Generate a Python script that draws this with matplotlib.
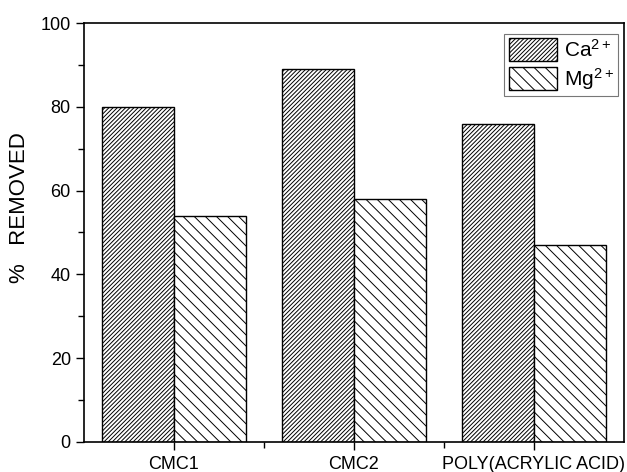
import matplotlib
matplotlib.use("Agg")
import matplotlib.pyplot as plt
import numpy as np
from matplotlib.ticker import MultipleLocator, FixedLocator

# removal data for each polymer
categories = ["CMC1", "CMC2", "POLY(ACRYLIC ACID)"]
ca_removed = [80, 89, 76]
mg_removed = [54, 58, 47]

plt.rcParams['font.family'] = ['Liberation Sans', 'DejaVu Sans']
plt.rcParams['mathtext.default'] = 'regular'
plt.rcParams['hatch.linewidth'] = 0.7

fig = plt.figure(figsize=(6.27, 4.72), dpi=100)
ax = fig.add_axes([0.134, 0.064, 0.861, 0.887])

x = np.arange(1, len(categories) + 1)
w = 0.4
ax.bar(x - w / 2, ca_removed, w, facecolor='white', edgecolor='black',
       linewidth=1.0, hatch='////////', label='Ca$^{2+}$')
ax.bar(x + w / 2, mg_removed, w, facecolor='white', edgecolor='black',
       linewidth=1.0, hatch='\\\\\\', label='Mg$^{2+}$')

ax.set_xlim(0.5, 3.5)
ax.set_ylim(0, 100)
ax.set_xticks(x)
ax.set_xticklabels(categories, fontsize=13)
ax.xaxis.set_minor_locator(FixedLocator([1.5, 2.5]))
ax.yaxis.set_major_locator(MultipleLocator(20))
ax.yaxis.set_minor_locator(MultipleLocator(10))
ax.tick_params(axis='y', which='major', labelsize=13, length=6, width=1,
               direction='out')
ax.tick_params(axis='y', which='minor', length=4, width=1, direction='out')
ax.tick_params(axis='x', which='major', length=6, width=1, direction='out', pad=4)
ax.tick_params(axis='x', which='minor', length=4, width=1, direction='out')
for s in ax.spines.values():
    s.set_linewidth(1.2)

ax.set_ylabel("%   REMOVED", fontsize=16)
ax.yaxis.set_label_coords(-0.1, 0.56)

leg = ax.legend(loc='upper right', bbox_to_anchor=(0.989, 0.974),
                borderaxespad=0, fontsize=15, frameon=True, fancybox=False,
                edgecolor='#555555', handlelength=2.35, handleheight=1.3,
                borderpad=0.2, labelspacing=0.25, handletextpad=0.3)
leg.get_frame().set_linewidth(0.8)

fig.savefig("out.png", dpi=100)
